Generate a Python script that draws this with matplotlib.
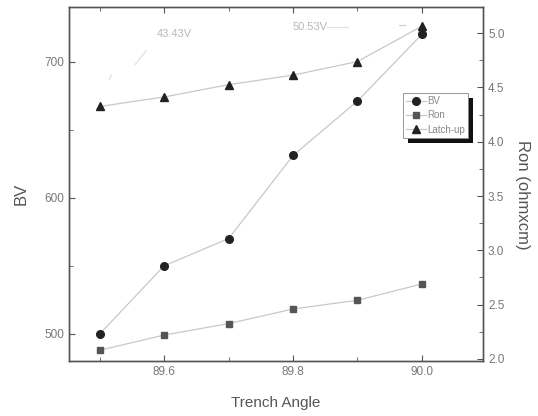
import matplotlib
matplotlib.use("Agg")
import matplotlib.pyplot as plt
from matplotlib.ticker import MultipleLocator, FormatStrFormatter
from matplotlib.patches import Rectangle
from matplotlib.transforms import IdentityTransform

plt.rcParams['font.family'] = ['Liberation Sans', 'DejaVu Sans']

angle = [89.5, 89.6, 89.7, 89.8, 89.9, 90.0]
bv = [500, 550, 570, 631, 671, 720]
ron = [2.08, 2.22, 2.325, 2.46, 2.54, 2.69]
latchup = [667, 674, 683, 690, 700, 726]
xticks = [89.6, 89.8, 90.0]
xticklabels = ["89.6", "89.8", "90.0"]
ann_texts = ["43.43V", "50.53V"]

fig = plt.figure(figsize=(5.38, 4.16), dpi=100)
ax = fig.add_axes([0.128, 0.132, 0.770, 0.851])
ax2 = ax.twinx()

line_c = '#c8c8c8'
tick_c = '#777777'
lab_c = '#555555'

l1, = ax.plot(angle, bv, color=line_c, lw=0.9, marker='o', ms=5.5,
              mfc='#222222', mec='#222222', label='BV', zorder=3)
l3, = ax.plot(angle, latchup, color=line_c, lw=0.9, marker='^', ms=6,
              mfc='#222222', mec='#222222', label='Latch-up', zorder=3)
l2, = ax2.plot(angle, ron, color=line_c, lw=0.9, marker='s', ms=4.5,
               mfc='#555555', mec='#555555', label='Ron', zorder=3)

ax.set_xlim(89.452, 90.095)
ax.set_ylim(480, 740)
ax2.set_ylim(1.98, 5.24)

ax.set_xticks(xticks)
ax.set_xticklabels(xticklabels)
ax.xaxis.set_minor_locator(MultipleLocator(0.1))
ax.yaxis.set_major_locator(MultipleLocator(100))
ax.yaxis.set_minor_locator(MultipleLocator(50))
ax2.yaxis.set_major_locator(MultipleLocator(0.5))
ax2.yaxis.set_minor_locator(MultipleLocator(0.25))
ax2.yaxis.set_major_formatter(FormatStrFormatter('%.1f'))

for a in (ax, ax2):
    for s in a.spines.values():
        s.set_color('#555555')
        s.set_linewidth(1.0)
ax.tick_params(axis='both', which='both', direction='in', colors='#555555',
               labelcolor=tick_c, labelsize=8.5, top=True)
ax.tick_params(which='major', length=4)
ax.tick_params(which='minor', length=3)
ax2.tick_params(axis='y', which='both', direction='in', colors='#555555',
                labelcolor=tick_c, labelsize=8.5)
ax2.tick_params(which='major', length=4)
ax2.tick_params(which='minor', length=3)

ax.set_xlabel('Trench Angle', fontsize=11, color=lab_c, labelpad=13)
ax.set_ylabel('BV', fontsize=12, color=lab_c)
ax2.set_ylabel('Ron (ohmxcm)', fontsize=12, color=lab_c, rotation=-90,
               ha='center', va='center')
ax.yaxis.set_label_coords(-0.116, 0.472)
ax2.yaxis.set_label_coords(1.094, 0.469)
ax.yaxis.label.set_va('center')

# faint annotations
ax.text(89.616, 720.5, ann_texts[0], fontsize=8, color='#b8b8b8', ha='center', va='center')
ax.text(89.826, 725, ann_texts[1], fontsize=8, color='#b8b8b8', ha='center', va='center')
ax.plot([89.555, 89.572], [698, 708], color='#dddddd', lw=0.8)
ax.plot([89.515, 89.518], [687, 690], color='#dddddd', lw=0.8)
ax.plot([89.853, 89.885], [725, 725], color='#e0e0e0', lw=0.8)
ax.plot([89.965, 89.973], [727, 727], color='#cccccc', lw=0.8)

# legend with shadow
leg = ax2.legend([l1, l2, l3], ['BV', 'Ron', 'Latch-up'], loc='upper left',
                 bbox_to_anchor=(0.807, 0.757), fontsize=7, frameon=True,
                 fancybox=False, shadow=False, handlelength=2.0, labelspacing=0.45,
                 borderpad=0.3, handletextpad=0.2, borderaxespad=0)
leg.get_frame().set_edgecolor('#888888')
leg.get_frame().set_linewidth(0.6)
leg.get_frame().set_alpha(1)
for t in leg.get_texts():
    t.set_color('#888888')
leg.set_zorder(10)

fig.canvas.draw()
bb = leg.get_frame().get_window_extent()
shadow = Rectangle((bb.x0 + 5, bb.y0 - 5), bb.width, bb.height, transform=IdentityTransform(),
                   facecolor='#111111', edgecolor='none', zorder=9)
ax2.add_artist(shadow)

fig.savefig('out.png', dpi=100)
